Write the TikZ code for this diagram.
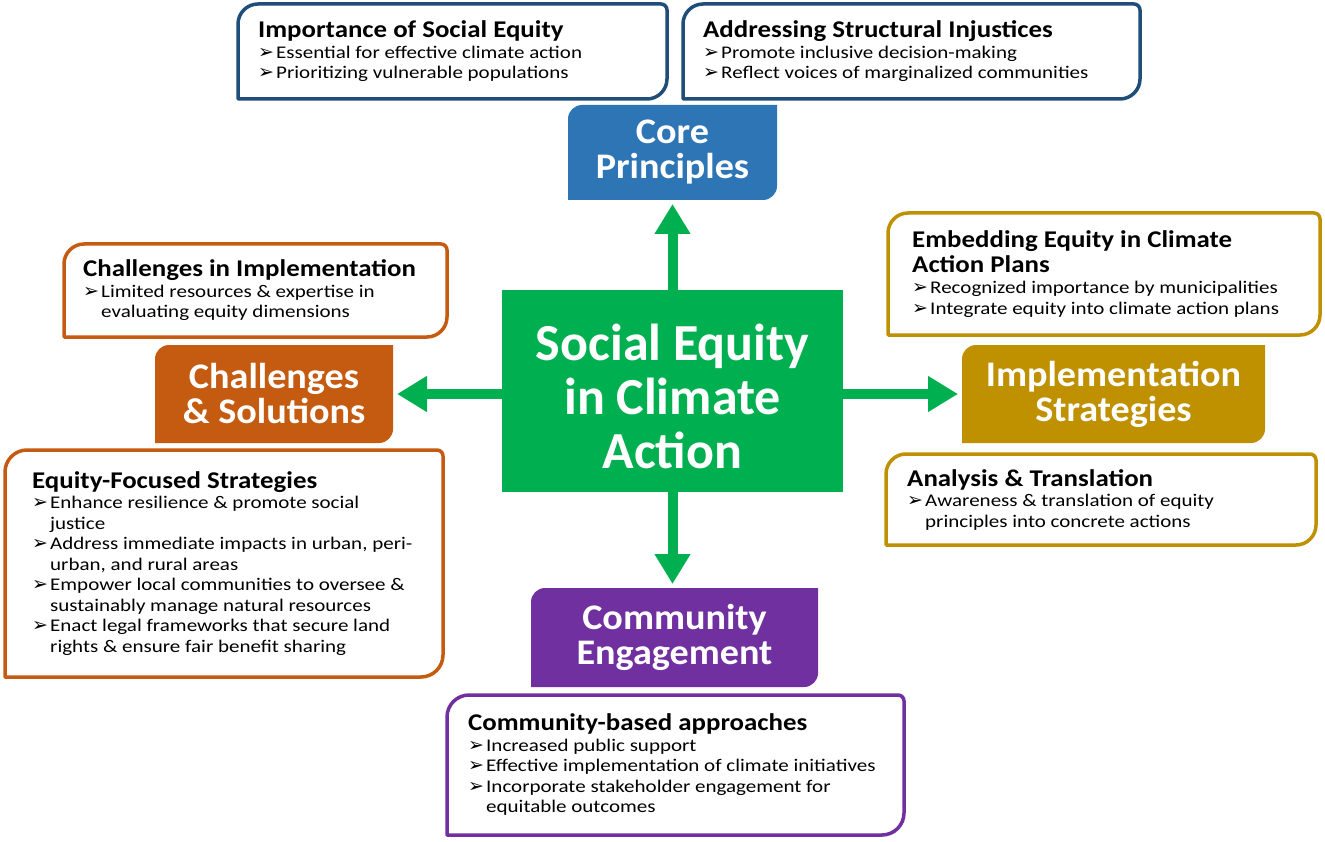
\documentclass[tikz,border=0pt]{standalone}
\usepackage{fontspec}
\setmainfont{Carlito}
\newfontfamily\bulf[FakeStretch=1.18]{Carlito}
\newfontfamily\hdf[FakeStretch=1.12]{Carlito}
\newfontfamily\hbf[FakeStretch=1.06]{Carlito}
\newfontfamily\symf{DejaVu Sans}
\usetikzlibrary{arrows.meta,calc,backgrounds}
\definecolor{cblue}{HTML}{2E75B6}
\definecolor{navy}{HTML}{1F4E79}
\definecolor{cgreen}{HTML}{00B050}
\definecolor{corange}{HTML}{C55A11}
\definecolor{cgold}{HTML}{BF9000}
\definecolor{cpurple}{HTML}{7030A0}
\newcommand\hdtxt{\hdf\bfseries\fontsize{24}{24}\selectfont}
\newcommand\bltxt{\bulf\fontsize{17.8}{20.5}\selectfont}
\newcommand\bulmark{\makebox[18pt][l]{\symf\fontsize{19}{19}\selectfont\raisebox{0.3pt}{➢}}}
\newcommand\contind{\hspace*{18pt}}
% #1 style, #2 node, #3 big radius, #4 small radius (top right)
\newcommand\boxshape[4]{%
  \path[#1] let \p1=(#2.north west), \p2=(#2.south east) in
    (\x1,\y2) -- (\x1,\y1-#3) .. controls (\x1,\y1-0.45*#3) and (\x1+0.45*#3,\y1) .. (\x1+#3,\y1)
    -- (\x2-#4,\y1) .. controls (\x2-0.45*#4,\y1) and (\x2,\y1-0.45*#4) .. (\x2,\y1-#4)
    -- (\x2,\y2+#3) .. controls (\x2,\y2+0.45*#3) and (\x2-0.45*#3,\y2) .. (\x2-#3,\y2) -- cycle;}
\tikzset{
  area/.style={inner sep=0pt, outer sep=0pt},
  txt/.style={inner sep=0pt, align=left, font=\bltxt, text=black, anchor=west},
  hdr/.style={inner sep=0pt, outer sep=0pt, align=center, text=white,
     font=\hbf\bfseries\fontsize{36}{35}\selectfont},
  arr/.style={draw=cgreen, line width=10pt, -{Triangle[width=34pt,length=30pt]}, shorten >=4pt},
  wline/.style={fill=white, line width=3.5pt, line join=round},
}
\begin{document}
\begin{tikzpicture}[x=1pt,y=-1pt]
\useasboundingbox (0,0) rectangle (1325,842);
% box areas
\node[area, minimum width=429pt, minimum height=95pt] (imp) at (452.5,51.5) {};
\node[area, minimum width=457pt, minimum height=95pt] (addr) at (911.5,51.5) {};
\node[area, minimum width=383pt, minimum height=93pt] (chi) at (255.5,290.5) {};
\node[area, minimum width=438pt, minimum height=227pt] (eqs) at (224,563.5) {};
\node[area, minimum width=432pt, minimum height=122pt] (emb) at (1104,274) {};
\node[area, minimum width=430pt, minimum height=91pt] (ana) at (1101,499.5) {};
\node[area, minimum width=457pt, minimum height=140pt] (cba) at (675.5,765) {};
% header nodes
\node[hdr, minimum width=209pt, minimum height=95pt] (core) at (672.5,152.5) {Core\\Principles};
\node[hdr, minimum width=238pt, minimum height=98pt] (chs) at (274,394) {Challenges\\\& Solutions};
\node[hdr, minimum width=303pt, minimum height=98pt] (impl) at (1113.5,394) {Implementation\\Strategies};
\node[hdr, minimum width=287pt, minimum height=99pt] (comm) at (674.5,637.5) {Community\\Engagement};
\node[inner sep=0pt, outer sep=0pt, fill=cgreen, minimum width=341pt, minimum height=202pt] (ctr) at (672.5,391) {};
\node[inner sep=0pt, align=center, text=white, font=\bfseries\fontsize{52}{54}\selectfont] (ctrtxt)
      at ([yshift=-5pt]ctr.center) {Social Equity\\in Climate\\Action};
\begin{scope}[on background layer]
  \fill[white] (0,0) rectangle (1325,842);
  \boxshape{fill=cblue}{core}{14pt}{0pt}
  \boxshape{fill=corange}{chs}{14pt}{0pt}
  \boxshape{fill=cgold}{impl}{14pt}{0pt}
  \boxshape{fill=cpurple}{comm}{14pt}{0pt}
  \boxshape{wline, draw=navy}{imp}{20pt}{6pt}
  \boxshape{wline, draw=navy}{addr}{20pt}{6pt}
  \boxshape{wline, draw=corange}{chi}{20pt}{6pt}
  \boxshape{wline, draw=corange}{eqs}{22pt}{6pt}
  \boxshape{wline, draw=cgold}{emb}{20pt}{6pt}
  \boxshape{wline, draw=cgold}{ana}{20pt}{6pt}
  \boxshape{wline, draw=cpurple}{cba}{22pt}{6pt}
\end{scope}
% arrows
\draw[arr] (ctr.north) -- (core.south);
\draw[arr] (ctr.south) -- (ctr.south |- comm.north);
\draw[arr] (ctr.west |- chs.east) -- (chs.east);
\draw[arr] (ctr.east |- impl.west) -- (impl.west);
% texts
\node[txt] (timp) at ([xshift=20pt]imp.west) {{\hdtxt Importance of Social Equity}\\
  \bulmark Essential for effective climate action\\
  \bulmark Prioritizing vulnerable populations};
\node[txt] (taddr) at ([xshift=20pt]addr.west) {{\hdtxt Addressing Structural Injustices}\\
  \bulmark Promote inclusive decision-making\\
  \bulmark Reflect voices of marginalized communities};
\node[txt] (tchi) at ([xshift=19pt]chi.west) {{\hdtxt Challenges in Implementation}\\
  \bulmark Limited resources \& expertise in\\
  \contind evaluating equity dimensions};
\node[txt] (teqs) at ([xshift=27pt]eqs.west) {{\hdtxt Equity-Focused Strategies}\\
  \bulmark Enhance resilience \& promote social\\
  \contind justice\\
  \bulmark Address immediate impacts in urban, peri-\\
  \contind urban, and rural areas\\
  \bulmark Empower local communities to oversee \&\\
  \contind sustainably manage natural resources\\
  \bulmark Enact legal frameworks that secure land\\
  \contind rights \& ensure fair benefit sharing};
\node[txt] (temb) at ([xshift=24pt]emb.west) {{\hdtxt Embedding Equity in Climate}\\[3pt]
  {\hdtxt Action Plans}\\[1pt]
  \bulmark Recognized importance by municipalities\\
  \bulmark Integrate equity into climate action plans};
\node[txt] (tana) at ([xshift=21pt]ana.west) {{\hdtxt Analysis \& Translation}\\
  \bulmark Awareness \& translation of equity\\
  \contind principles into concrete actions};
\node[txt] (tcba) at ([xshift=21pt]cba.west) {{\hdtxt Community-based approaches}\\
  \bulmark Increased public support\\
  \bulmark Effective implementation of climate initiatives\\
  \bulmark Incorporate stakeholder engagement for\\
  \contind equitable outcomes};
\end{tikzpicture}
\end{document}
